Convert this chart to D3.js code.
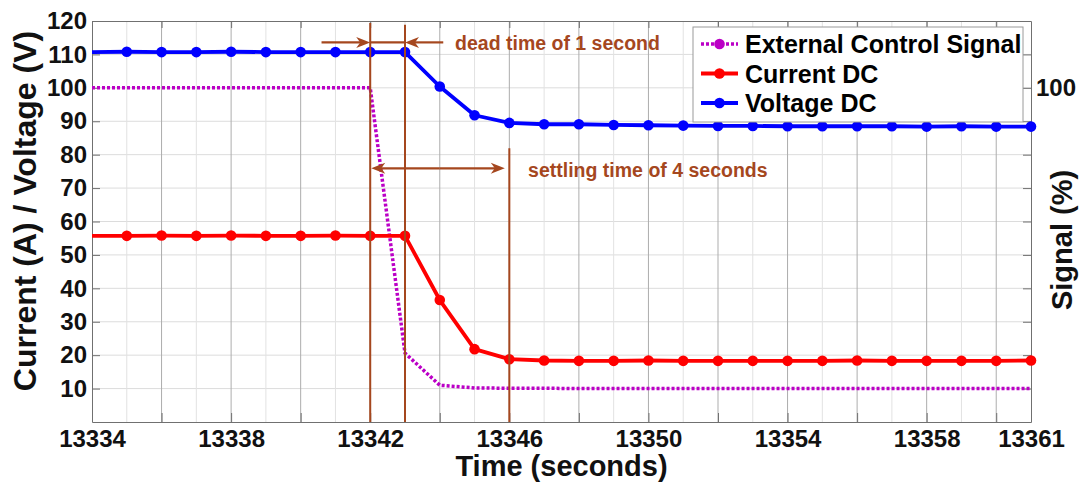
<!DOCTYPE html>
<html>
<head>
<meta charset="utf-8">
<script src="https://cdn.jsdelivr.net/npm/d3@7"></script>
<style>
  html, body { margin: 0; padding: 0; background: #fff; }
  svg { display: block; font-family: "Liberation Sans", Arial, sans-serif; font-weight: bold; }
</style>
</head>
<body>
<svg id="chart" width="1080" height="482"></svg>
<script>
// ---- data ----
const time = d3.range(13334, 13362); // 13334 .. 13361, one sample per second
const voltageDC = [110.7, 110.8, 110.7, 110.7, 110.8, 110.7, 110.7, 110.7, 110.7, 110.7,
                   100.4, 91.8, 89.5, 89.1, 89.1, 88.9, 88.8, 88.7, 88.6, 88.6,
                   88.5, 88.5, 88.5, 88.5, 88.4, 88.5, 88.4, 88.4];
const currentDC = [55.7, 55.7, 55.8, 55.7, 55.8, 55.7, 55.7, 55.8, 55.7, 55.7,
                   36.5, 21.8, 18.8, 18.4, 18.3, 18.3, 18.4, 18.3, 18.3, 18.3,
                   18.3, 18.3, 18.4, 18.3, 18.3, 18.3, 18.3, 18.4];
const controlSignal = [100, 100, 100, 100, 100, 100, 100, 100, 100, 20.6,
                       11.0, 10.2, 10.1, 10.1, 10, 10, 10, 10, 10, 10,
                       10, 10, 10, 10, 10, 10, 10, 10];

const xTickLabels = [13334, 13338, 13342, 13346, 13350, 13354, 13358, 13361];
const yTicks = [10, 20, 30, 40, 50, 60, 70, 80, 90, 100, 110, 120];
const signalTickLabels = [100];

// timing annotations (time in s, value on the left axis)
const deadStart = 13342, deadEnd = 13343, settleEnd = 13346;

// ---- layout ----
const svg = d3.select("#chart");
const L = 92, R = 1031, T = 21, B = 422;
const x = d3.scaleLinear().domain([13334, 13361]).range([L, R]);
const y = d3.scaleLinear().domain([0, 120]).range([B, T]);
const ySignal = d3.scaleLinear().domain([0, 120]).range([B, T]);

const axisGray = "#707070";
const brown = "#a5471e";

// ---- grid ----
const grid = svg.append("g");
grid.selectAll("line.hgrid").data(yTicks.filter(v => v < 120)).join("line")
  .attr("x1", L).attr("x2", R).attr("y1", d => y(d)).attr("y2", d => y(d))
  .attr("stroke", "#dcdcdc").attr("stroke-width", 1);
grid.selectAll("line.minor").data(d3.range(13335, 13361, 2)).join("line")
  .attr("x1", d => x(d)).attr("x2", d => x(d)).attr("y1", T).attr("y2", B)
  .attr("stroke", "#e2e2e2").attr("stroke-width", 1);
grid.selectAll("line.major").data(d3.range(13336, 13361, 2)).join("line")
  .attr("x1", d => x(d)).attr("x2", d => x(d)).attr("y1", T).attr("y2", B)
  .attr("stroke", "#adadad").attr("stroke-width", 1);

// ---- axes ----
function styleAxis(g) {
  g.attr("font-family", null).attr("font-size", null);
  g.selectAll("path.domain").attr("stroke", axisGray).attr("stroke-width", 1);
  g.selectAll(".tick line").attr("stroke", axisGray);
  g.selectAll(".tick text").attr("fill", "#111").style("font-size", "24px").style("font-weight", "bold");
}
const xTickVals = d3.range(13334, 13361, 2).concat([13361]);
svg.append("g").attr("transform", `translate(0,${B})`)
  .call(d3.axisBottom(x).tickValues(xTickVals).tickSizeInner(-9).tickSizeOuter(0).tickPadding(8)
    .tickFormat(d => xTickLabels.includes(d) ? String(d) : ""))
  .call(styleAxis);
svg.append("g").attr("transform", `translate(0,${T})`)
  .call(d3.axisTop(x).tickValues(d3.range(13334, 13361, 2)).tickSizeInner(-7).tickSizeOuter(0).tickFormat(""))
  .call(styleAxis);
svg.append("g").attr("transform", `translate(${L},0)`)
  .call(d3.axisLeft(y).tickValues(yTicks).tickSizeInner(-8).tickSizeOuter(0).tickPadding(5)
    .tickFormat(d3.format("d")))
  .call(styleAxis);
svg.append("g").attr("transform", `translate(${R},0)`)
  .call(d3.axisRight(ySignal).tickValues(yTicks).tickSizeInner(-8).tickSizeOuter(0).tickPadding(5)
    .tickFormat(d => signalTickLabels.includes(d) ? String(d) : ""))
  .call(styleAxis);

// ---- series ----
const line = d3.line().x(d => x(d.t)).y(d => y(d.v));
const series = [
  { name: "External Control Signal", values: controlSignal, color: "#bb00c6", dash: "3,2", width: 3.5, markers: false },
  { name: "Current DC", values: currentDC, color: "#ff0000", dash: null, width: 3.8, markers: true },
  { name: "Voltage DC", values: voltageDC, color: "#0000ff", dash: null, width: 3.8, markers: true }
];
series.forEach(s => {
  const pts = time.map((t, i) => ({ t, v: s.values[i] }));
  svg.append("path").datum(pts)
    .attr("fill", "none").attr("stroke", s.color).attr("stroke-width", s.width)
    .attr("stroke-linejoin", "round")
    .attr("stroke-dasharray", s.dash).attr("d", line);
  if (s.markers) {
    svg.append("g").selectAll("circle").data(pts.filter(p => p.t > x.domain()[0])).join("circle")
      .attr("cx", d => x(d.t)).attr("cy", d => y(d.v)).attr("r", 5.3).attr("fill", s.color);
  }
});

// ---- annotations ----
const ann = svg.append("g").attr("stroke", brown).attr("fill", brown);
function vline(t, top) {
  ann.append("line").attr("x1", x(t)).attr("x2", x(t)).attr("y1", y(top)).attr("y2", B)
    .attr("stroke-width", 2);
}
vline(deadStart, 119.4);
vline(deadEnd, 118.9);
vline(settleEnd, 81.9);

function arrow(t0, t1, v) {
  // shaft from t0 to t1 with a notched head at t1
  const x0 = x(t0), x1 = x(t1), yy = y(v), dir = Math.sign(x1 - x0);
  ann.append("line").attr("x1", x0).attr("x2", x1 - dir * 8).attr("y1", yy).attr("y2", yy)
    .attr("stroke-width", 2.2);
  ann.append("path")
    .attr("d", `M${x1},${yy} L${x1 - dir * 14},${yy - 5.5} L${x1 - dir * 10},${yy} L${x1 - dir * 14},${yy + 5.5} Z`)
    .attr("stroke", "none");
}
arrow(13340.6, deadStart, 113.6);
ann.append("line").attr("x1", x(deadStart)).attr("x2", x(deadEnd)).attr("y1", y(113.6)).attr("y2", y(113.6))
  .attr("stroke-width", 2.2);
arrow(13344.1, deadEnd, 113.6);
arrow(13344.0, deadStart + 0.03, 75.9);
arrow(13344.0, 13345.87, 75.9);

svg.append("text").attr("x", x(13344.44)).attr("y", y(111.4))
  .attr("fill", brown).style("font-size", "19.5px").text("dead time of 1 second");
svg.append("text").attr("x", x(13346.54)).attr("y", y(73.3))
  .attr("fill", brown).style("font-size", "19.5px").text("settling time of 4 seconds");

// ---- legend ----
const lg = svg.append("g");
lg.append("rect").attr("x", 693).attr("y", 27).attr("width", 330).attr("height", 95)
  .attr("fill", "#fff").attr("stroke", "#9a9a9a").attr("stroke-width", 1);
series.forEach((s, i) => {
  const cy = 44 + i * 29.5;
  lg.append("line").attr("x1", 701).attr("x2", 738).attr("y1", cy).attr("y2", cy)
    .attr("stroke", s.color).attr("stroke-width", s.width).attr("stroke-dasharray", s.dash);
  lg.append("circle").attr("cx", 719.5).attr("cy", cy).attr("r", 5.3).attr("fill", s.color);
  lg.append("text").attr("x", 745).attr("y", cy + 9).attr("fill", "#000")
    .style("font-size", "25px").text(s.name);
});

// ---- axis titles ----
svg.append("text").attr("x", (L + R) / 2).attr("y", 476).attr("text-anchor", "middle")
  .attr("fill", "#111").style("font-size", "29px").text("Time (seconds)");
svg.append("text").attr("transform", `translate(36,211) rotate(-90)`)
  .attr("text-anchor", "middle").attr("fill", "#111").style("font-size", "32px")
  .text("Current (A) / Voltage (V)");
svg.append("text").attr("transform", `translate(1072,240) rotate(-90)`)
  .attr("text-anchor", "middle").attr("fill", "#111").style("font-size", "29px")
  .text("Signal (%)");
</script>
</body>
</html>
